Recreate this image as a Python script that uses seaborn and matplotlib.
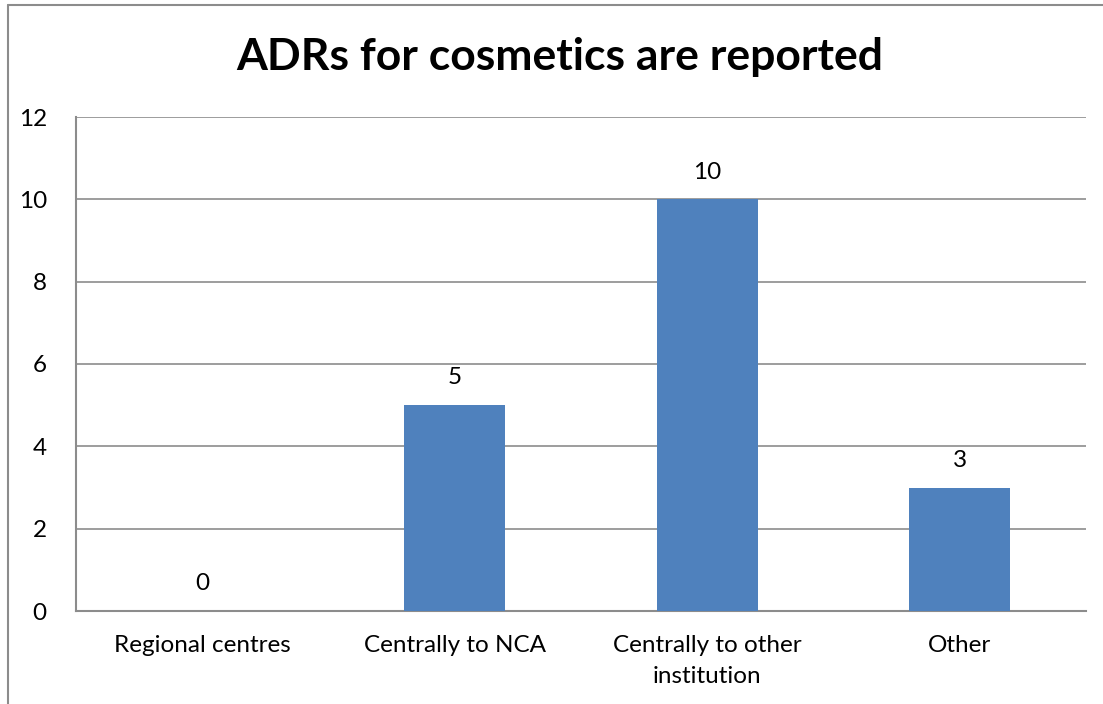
import matplotlib
matplotlib.use("Agg")
import matplotlib.pyplot as plt
import seaborn as sns
import pandas as pd
from matplotlib.lines import Line2D

categories = ["Regional centres", "Centrally to NCA", "Centrally to other\ninstitution", "Other"]
values = [0, 5, 10, 3]
yticks = [0, 2, 4, 6, 8, 10, 12]

sns.set_theme(style="white")
plt.rcParams['font.family'] = ['Lato', 'DejaVu Sans']
plt.rcParams['text.color'] = 'black'
plt.rcParams['xtick.color'] = 'black'
plt.rcParams['ytick.color'] = 'black'

df = pd.DataFrame({"cat": categories, "val": values})

fig = plt.figure(figsize=(11.03, 7.04), dpi=100)
ax = fig.add_axes([76/1103, 1-611/704, (1086-76)/1103, (611-117)/704])

sns.barplot(data=df, x="cat", y="val", color="#4F81BD", saturation=1, width=0.4,
            linewidth=0, ax=ax, zorder=3)

ax.set_ylim(0, 12)
ax.set_yticks(yticks)
ax.set_yticklabels([str(t) for t in yticks], fontsize=17.5)
ax.set_xlabel("")
ax.set_ylabel("")
ax.tick_params(axis='x', labelsize=17.5, length=0, pad=17, labelcolor='black')
ax.tick_params(axis='y', length=0, pad=21, labelcolor='black')
for lab in ax.get_xticklabels():
    lab.set_linespacing(1.6)
ax.yaxis.grid(True, color="#8c8c8c", linewidth=1.2)
ax.set_axisbelow(True)
for s in ["top", "right"]:
    ax.spines[s].set_visible(False)
for s in ["left", "bottom"]:
    ax.spines[s].set_color("#8c8c8c")
    ax.spines[s].set_linewidth(1.5)

for i, v in enumerate(values):
    ax.annotate(str(v), (i, v), xytext=(0, 12), textcoords="offset points",
                ha="center", va="bottom", fontsize=17.5, color="black")

fig.suptitle("ADRs for cosmetics are reported", fontsize=32, fontweight="bold",
             x=560/1103, y=1-57/704, va="center", color="black")

fig.add_artist(Line2D([8/1103, 8/1103], [0, 1-5/704], color="#8c8c8c", linewidth=1.5))
fig.add_artist(Line2D([8/1103, 1], [1-5/704, 1-5/704], color="#8c8c8c", linewidth=1.5))

fig.savefig("out.png", dpi=100)
